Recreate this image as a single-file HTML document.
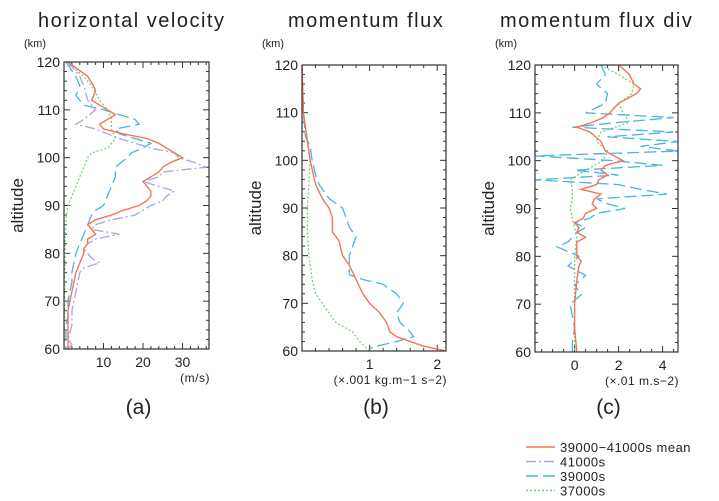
<!DOCTYPE html>
<html><head><meta charset="utf-8"><style>
body{margin:0;background:#fff;width:719px;height:501px;overflow:hidden;font-family:"Liberation Sans",sans-serif}
svg{display:block}
</style></head><body>
<svg id="fig" width="719" height="501" xmlns="http://www.w3.org/2000/svg"></svg>
<script>
// Panel (a) horizontal velocity data: [altitude, value]
const aMean=[[120,1],[117,6],[115,7.5],[114,8],[112,7],[110,11],[109,13],[108,11],[107,9],[106,10],[105,15],[104,21],[103,24],[102,26],[101,28],[100,30],[99,27],[98,25],[97,24],[96,22],[95,20],[94,21],[93,22],[92,22],[91,21],[90,19],[89,15],[88,12],[87,8],[86,6],[85,7],[84,8],[83,6],[82,6],[81,5],[80,5],[78,4],[76,3],[74,2.5],[72,2],[70,1.5],[68,1],[65,1],[60,1]];
const a39=[[120,0.5],[117,3],[115,4],[113,3],[111,5],[110,10],[109,14],[108,18],[107,19],[106,13],[105,14],[104,18],[103,22],[102,20],[101,17],[100,16],[98,13],[96,13],[94,12],[92,11],[90,10],[89,8],[88,7],[86,6],[84,5],[82,4],[80,3],[78,2.5],[76,2],[74,2],[72,1.5],[70,1],[67,1],[65,0.5],[60,0.5]];
const a41=[[120,1],[117,4],[115,5],[112,6],[110,8],[108,5],[107,3],[106,8],[105,11],[104,14],[103,18],[102,22],[101,28],[100,29],[99,33],[98,36],[97,25],[96,24],[95,20],[94,24],[93,28],[92,26],[91,25],[90,22],[89,20],[88,18],[87,12],[86,8],[85,7],[84,14],[83,8],[82,6],[81,5],[80,6],[79,7],[78,9],[77,5],[76,4],[74,3.5],[72,3],[70,2.5],[68,2],[65,2],[62,1],[61,2],[60,1]];
const a37=[[120,0.5],[117,5],[115,7],[112,9],[110,11],[108,12],[106,12],[104,13],[102,11],[101,7],[100,6],[98,5],[96,4],[94,3],[92,2],[90,1],[87,0.5],[84,0.3],[60,0]];
// Panel (b) momentum flux
const bMean=[[120,0],[110,0.02],[102,0.1],[100,0.12],[95,0.2],[92,0.3],[90,0.4],[88,0.45],[85,0.45],[83,0.55],[80,0.6],[78,0.7],[75,0.8],[72,0.9],[70,1.0],[68,1.15],[66,1.25],[64,1.3],[63,1.4],[62,1.6],[61,1.8],[60,2.13]];
const b39=[[120,0],[110,0.02],[105,0.05],[103,0.12],[100,0.15],[97,0.2],[95,0.25],[92,0.4],[90,0.6],[88,0.65],[86,0.7],[84,0.8],[82,0.75],[80,0.7],[78,0.7],[76,0.7],[75,0.9],[74,1.2],[72,1.4],[70,1.5],[68,1.4],[66,1.45],[64,1.6],[63,1.65],[62,1.4],[61,1.1],[60.5,1.0]];
const b37=[[120,0],[110,0.02],[104,0.08],[100,0.12],[95,0.1],[90,0.08],[85,0.08],[80,0.1],[75,0.15],[72,0.2],[70,0.3],[68,0.4],[66,0.5],[64,0.75],[62,0.85],[60,1.0]];
// Panel (c) momentum flux divergence
const cMean=[[120,2],[118,2.5],[116,2.7],[115,3],[114,2.8],[112,2],[110,1.6],[109,1.3],[108,0.8],[107,0.1],[106,0.7],[104,1.2],[102,1.4],[101,1.8],[100,2.2],[99,1.4],[98,1.2],[97,1.5],[96,1.1],[95,1],[94,0.3],[93,1.2],[92,0.9],[91,0.8],[90,1],[89,0.5],[88,0.4],[87,0],[86,0.2],[85,0.1],[84,0.5],[83,0.1],[80,0.1],[79,0.3],[78,0.2],[75,0.1],[70,0],[65,0],[60,0.1]];
const c39=[[120,1.2],[118,1.4],[116,1],[114,1.5],[112,1.4],[110,0.5],[109,4.5],[108,2],[107,-0.1],[106,4.5],[105,1.5],[104,4.7],[103,3],[102,4.7],[101,-1.8],[100,1.8],[99,4],[98,0],[97,2],[96,-1.8],[95,2],[94,3],[93,4.2],[92,1],[91,1.5],[90,2.3],[89,1],[88,0.7],[87,0],[86,0.5],[85,0.1],[83,-0.3],[82,-0.8],[80,0.2],[78,-0.3],[76,0.5],[74,0],[72,0.3],[70,-0.2],[65,0],[62,-0.1],[60,-0.1]];
const c37=[[120,1.2],[118,2],[116,2.7],[114,2.6],[112,2],[110,2.2],[108,2.5],[106,1.2],[104,1],[102,1.5],[100,1.3],[98,0.5],[96,-0.2],[94,-0.1],[92,-0.1],[90,-0.2],[88,-0.1],[86,0],[84,0.1],[80,0],[70,0],[60,0]];
const yTicks=[60,70,80,90,100,110,120];
const aTicks=[10,20,30], bTicks=[1,2], cTicks=[0,2,4];

const NS="http://www.w3.org/2000/svg";
const svg=document.getElementById('fig');
function el(tag,attrs,parent,text){const e=document.createElementNS(NS,tag);for(const k in attrs)e.setAttribute(k,attrs[k]);if(text!==undefined)e.textContent=text;(parent||svg).appendChild(e);return e;}
const C={mean:'#f5735a',s41:'#a9a5e0',s39:'#4ab4e0',s37:'#73d27a'};
const D={mean:'',s41:'10,3,2,3',s39:'12,5',s37:'2,2'};
function panel(o){
  const g=el('g',{});
  
  
  const x=v=>o.L+(v-o.x0)/(o.x1-o.x0)*(o.R-o.L);
  const y=v=>o.B-(v-60)/60*(o.B-o.T);
  const t=el('text',{x:o.tx,y:27,'font-size':20,fill:'#222','letter-spacing':'1.5'},g,o.title);
  
  el('text',{x:o.L-40,y:47,'font-size':11,fill:'#222'},g,'(km)');
  const yl=el('text',{x:0,y:0,'font-size':17,fill:'#222','text-anchor':'middle',transform:`translate(${o.L-41},${(o.T+o.B)/2}) rotate(-90)`},g,'altitude');
  
  for(let a=60;a<=120;a+=2){const maj=a%10===0;const l=maj?6:3;
    el('line',{x1:o.L,x2:o.L+l,y1:y(a),y2:y(a),stroke:'#333'},g);
    el('line',{x1:o.R,x2:o.R-l,y1:y(a),y2:y(a),stroke:'#333'},g);}
  yTicks.forEach(a=>{const tl=el('text',{x:o.L-4,y:y(a)+5,'font-size':14,fill:'#222','text-anchor':'end'},g,String(a));});
  for(let v=Math.ceil(o.x0/o.minor)*o.minor;v<=o.x1;v+=o.minor){const maj=Math.abs(v/o.major-Math.round(v/o.major))<1e-6;const l=maj?6:3;
    el('line',{x1:x(v),x2:x(v),y1:o.B,y2:o.B-l,stroke:'#333'},g);
    el('line',{x1:x(v),x2:x(v),y1:o.T,y2:o.T+l,stroke:'#333'},g);}
  o.xt.forEach(v=>{const tl=el('text',{x:x(v),y:o.B+18,'font-size':14,fill:'#222','text-anchor':'middle'},g,String(v));});
  el('text',{x:o.R+1,y:o.B+33,'font-size':12,fill:'#222','text-anchor':'end','letter-spacing':'0.5'},g,o.unit);
  const cp='clip-'+o.name;const cpe=el('clipPath',{id:cp},g);el('rect',{x:o.L,y:o.T,width:o.R-o.L,height:o.B-o.T},cpe);
  [['s37',o.d37],['s39',o.d39],['s41',o.d41],['mean',o.dm]].forEach(([k,d])=>{if(!d)return;
    const p=el('polyline',{points:d.map(q=>x(q[1]).toFixed(1)+','+y(q[0]).toFixed(1)).join(' '),fill:'none',stroke:C[k],'stroke-width':k==='mean'?1.4:1.3,'stroke-dasharray':D[k],'clip-path':`url(#${cp})`},g);
    });
  const fr=el('rect',{x:o.L,y:o.T,width:o.R-o.L,height:o.B-o.T,fill:'none',stroke:'#333','stroke-width':1.2},g);
  
  const lab=el('text',{x:(o.L+o.R)/2+2,y:414,'font-size':21,fill:'#222','text-anchor':'middle'},g,o.label);
  
}
panel({name:'panel-a',title:'horizontal velocity',tx:38,L:64,R:209,T:62,B:349,x0:0,x1:36.7,minor:2,major:10,xt:aTicks,unit:'(m/s)',label:'(a)',dm:aMean,d39:a39,d41:a41,d37:a37});
panel({name:'panel-b',title:'momentum flux',tx:288,L:302,R:446,T:65,B:351,x0:0,x1:2.13,minor:0.2,major:1,xt:bTicks,unit:'(×.001 kg.m−1 s−2)',label:'(b)',dm:bMean,d39:b39,d37:b37});
panel({name:'panel-c',title:'momentum flux div',tx:500,L:535,R:678,T:65,B:352,x0:-1.8,x1:4.7,minor:0.5,major:2,xt:cTicks,unit:'(×.01 m.s−2)',label:'(c)',dm:cMean,d39:c39,d37:c37});
// legend
const lg=el('g',{});


[['mean','39000−41000s mean'],['s41','41000s'],['s39','39000s'],['s37','37000s']].forEach(([k,t],i)=>{
  const yy=447+i*14.5;
  const e=el('g',{},lg);
  
  
  el('line',{x1:526,x2:555,y1:yy,y2:yy,stroke:C[k],'stroke-width':1.4,'stroke-dasharray':D[k]},e);
  el('text',{x:560,y:yy+5,'font-size':13,fill:'#222','letter-spacing':'0.5'},e,t);
});
</script>
</body></html>
